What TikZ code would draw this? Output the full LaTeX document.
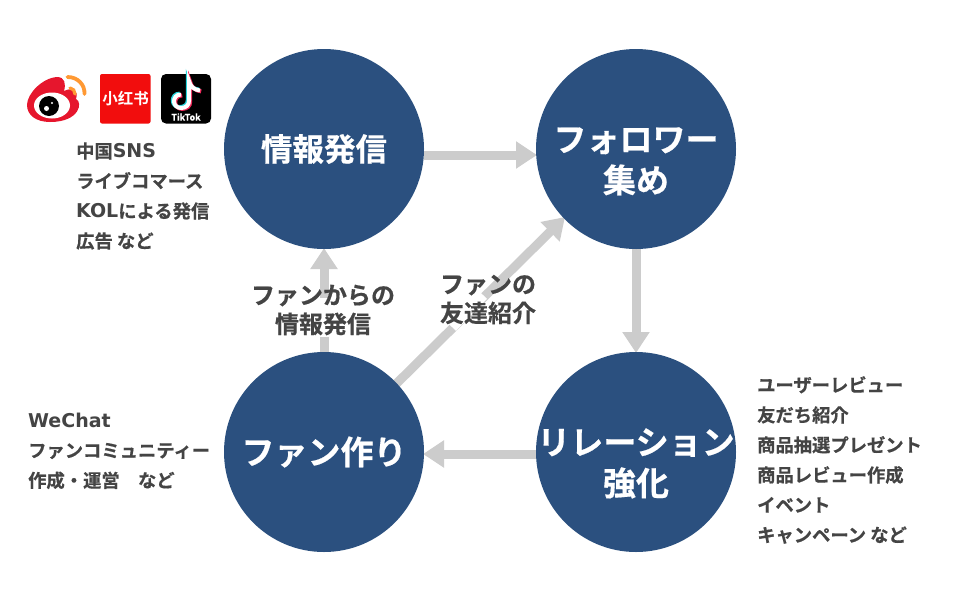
\documentclass[tikz,border=0pt]{standalone}
\usepackage{fontspec}
\usetikzlibrary{arrows.meta}
\setmainfont{Noto Sans CJK JP Bold}[FakeBold=0.5]
\newfontfamily\cnfont{Noto Sans CJK SC Bold}
\newfontfamily\latfont{DejaVu Sans Bold}
\newcommand{\lat}[1]{{\latfont\fontsize{19}{30}\selectfont #1}}
\newcommand{\hubline}[1]{\rule{0pt}{49pt}\makebox[0pt][c]{#1}}
\definecolor{navy}{HTML}{2B507F}
\definecolor{arrowgray}{HTML}{CCCCCC}
\definecolor{textgray}{HTML}{444444}
\definecolor{wbred}{HTML}{E6162D}
\definecolor{wborange}{HTML}{FF9933}
\definecolor{xhsred}{HTML}{F20D0D}
\definecolor{ttcyan}{HTML}{25D4DC}
\definecolor{ttred}{HTML}{F0295A}
\tikzset{
  hub/.style={circle,fill=navy,minimum size=200pt,inner sep=0pt,text=white,align=center,font=\fontsize{33}{41}\selectfont},
  fat/.style={draw=arrowgray,line width=9pt,-{Triangle[width=26pt,length=21pt]}},
  lbl/.style={inner sep=0pt,text=textgray,anchor=west,font=\fontsize{18.3}{30}\selectfont,align=left},
  mid/.style={inner sep=1pt,text=textgray,align=center,font=\fontsize{24}{29}\selectfont},
  notestroke/.style={line width=4pt,line cap=butt},
}
\newcommand{\ttnote}[1]{\draw[notestroke,#1] (181,94.5) .. controls (176,94.5) and (174,98) .. (174,101.5) .. controls (174,105.5) and (177.5,108) .. (181,108) .. controls (186,108) and (189,105) .. (189,101) -- (189,81) .. controls (190,86) and (194,90) .. (200,90.5);}
\begin{document}
\begin{tikzpicture}[x=1pt,y=-1pt]
\useasboundingbox (0,0) rectangle (960,600);
\fill[white] (0,0) rectangle (960,600);
\coordinate (ca) at (324,149);
\coordinate (cb) at (636,149);
\coordinate (cc) at (636,452);
\coordinate (cd) at (324,452);
% connectors
\coordinate (a1) at (424,155); \coordinate (b1) at (537,155);
\coordinate (b2) at (636,248); \coordinate (c2) at (636,353);
\coordinate (c3) at (536,454); \coordinate (d3) at (423,454);
\coordinate (d4) at (324,353); \coordinate (a4) at (324,248);
\coordinate (d5) at (395,385); \coordinate (b5) at (565,217);
\draw[fat] (a1)--(b1);
\draw[fat] (b2)--(c2);
\draw[fat] (c3)--(d3);
\draw[fat] (d4)--(a4);
\draw[fat] (d5)--(b5);
\node[hub,font=\fontsize{31.5}{43}\selectfont] (info) at (ca) {情報発信};
\node[hub] (foll) at (cb) {\hubline{フォロワー}\\集め};
\node[hub] (rel) at (cc) {\hubline{リレーション}\\強化};
\node[hub] (fan) at (cd) {ファン作り};
% gaps in the connectors behind the labels
\fill[white] (318,298) rectangle (330,337);
\draw[white,line width=11pt] (483,295) -- (452,327);
\node[mid] (l1) at (323,310) {ファンからの\\情報発信};
\node[mid] (l2) at (488,299.5) {ファンの\\友達紹介};
% side labels
\node[lbl] (t1) at (76,196) {中国\lat{SNS}\\ライブコマース\\\lat{KOL}による発信\\広告 など};
\node[lbl] (t2) at (28,451) {\lat{WeChat}\\ファンコミュニティー\\作成・運営　など};
\node[lbl] (t3) at (757,460) {ユーザーレビュー\\友だち紹介\\商品抽選プレゼント\\商品レビュー作成\\イベント\\キャンペーン など};
% weibo logo
\fill[wbred] (27,105) .. controls (27,94) and (42,78) .. (57,77) .. controls (65,77) and (66,84) .. (64,91) .. controls (72,87) and (79,90) .. (76,99) .. controls (83,102) and (80,122) .. (50,122) .. controls (36,122) and (27,115) .. (27,105) -- cycle;
\fill[white] (52,105.5) ellipse[x radius=18pt,y radius=13pt];
\fill[black] (49,106) circle[radius=10pt];
\fill[white] (46.5,108.5) circle[radius=2.5pt];
\fill[white] (52,103) circle[radius=1.2pt];
\draw[wborange,line width=3.8pt,line cap=round] (67.5,77) .. controls (78,77) and (85,85) .. (84.5,94);
\draw[wborange,line width=3.2pt,line cap=round] (70,88) .. controls (73,88) and (75,91) .. (75,94);
% xiaohongshu logo
\fill[xhsred,rounded corners=2pt] (100,74) rectangle (150.5,123.5);
\node[inner sep=0pt,text=white,font=\fontsize{15.5}{16}\cnfont] (xhs) at (125.5,99) {小红书};
% tiktok logo
\fill[black,rounded corners=5pt] (161,74) rectangle (211,123.5);
\begin{scope}[shift={(-1.2,-0.9)}]\ttnote{ttcyan}\end{scope}
\begin{scope}[shift={(1.2,0.9)}]\ttnote{ttred}\end{scope}
\ttnote{white}
\node[inner sep=0pt,text=white,font=\fontsize{9}{10}\selectfont] (tt) at (186,117) {TikTok};
\end{tikzpicture}
\end{document}
